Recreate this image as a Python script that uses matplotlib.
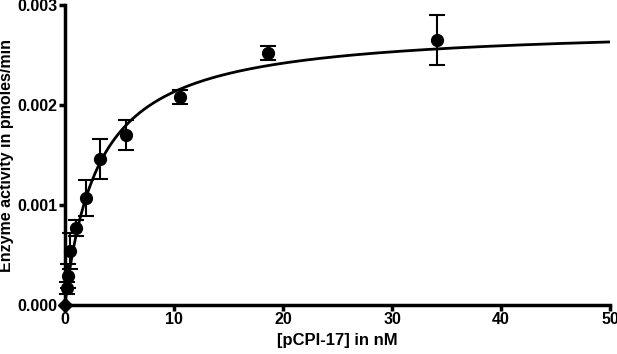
import numpy as np
import matplotlib
matplotlib.use("Agg")
from matplotlib import pyplot as plt

plt.rcParams["font.family"] = ["Liberation Sans", "DejaVu Sans"]
plt.rcParams["font.weight"] = "bold"

# measured points (concentration in nM, activity in pmoles/min)
conc = [0.2, 0.3, 0.5, 1.0, 1.9, 3.2, 5.6, 10.6, 18.6, 34.1]
activity = [0.00017, 0.00029, 0.00054, 0.00077, 0.00107, 0.00146, 0.00170, 0.00208, 0.00252, 0.00265]
err = [0.00006, 0.00012, 0.00018, 0.00008, 0.00018, 0.00020, 0.00015, 0.00007, 0.00007, 0.00025]

# fitted Michaelis-Menten parameters
VMAX = 0.002794
KM = 3.11

fig = plt.figure(figsize=(6.17, 3.54), dpi=100)
ax = fig.add_axes([0.105, 0.138, 0.884, 0.848])

xfit = np.linspace(0, 50, 400)
ax.plot(xfit, VMAX * xfit / (KM + xfit), color="black", lw=2, zorder=2)

ax.errorbar(conc, activity, yerr=err, fmt="o", color="black", ms=8.5,
            capsize=6, elinewidth=1.5, capthick=1.5, zorder=3, clip_on=False)
ax.plot([0], [0], marker="D", color="black", ms=7, clip_on=False, zorder=4)

ax.set(xlim=[0, 50], ylim=[0, 0.003])
ax.set_xticks([0, 10, 20, 30, 40, 50])
ax.set_yticks([0.000, 0.001, 0.002, 0.003])
ax.set_yticklabels(["0.000", "0.001", "0.002", "0.003"])
for s in ["top", "right"]:
    ax.spines[s].set_visible(False)
for s in ["left", "bottom"]:
    ax.spines[s].set_linewidth(2.5)
ax.tick_params(width=2.5, length=4, labelsize=11.5, pad=1)

ax.set_xlabel("[pCPI-17] in nM", fontsize=12, fontweight="bold", labelpad=4)
ax.set_ylabel("Enzyme activity in pmoles/min", fontsize=11.5, fontweight="bold", labelpad=3)

fig.savefig("out.png", dpi=100)
